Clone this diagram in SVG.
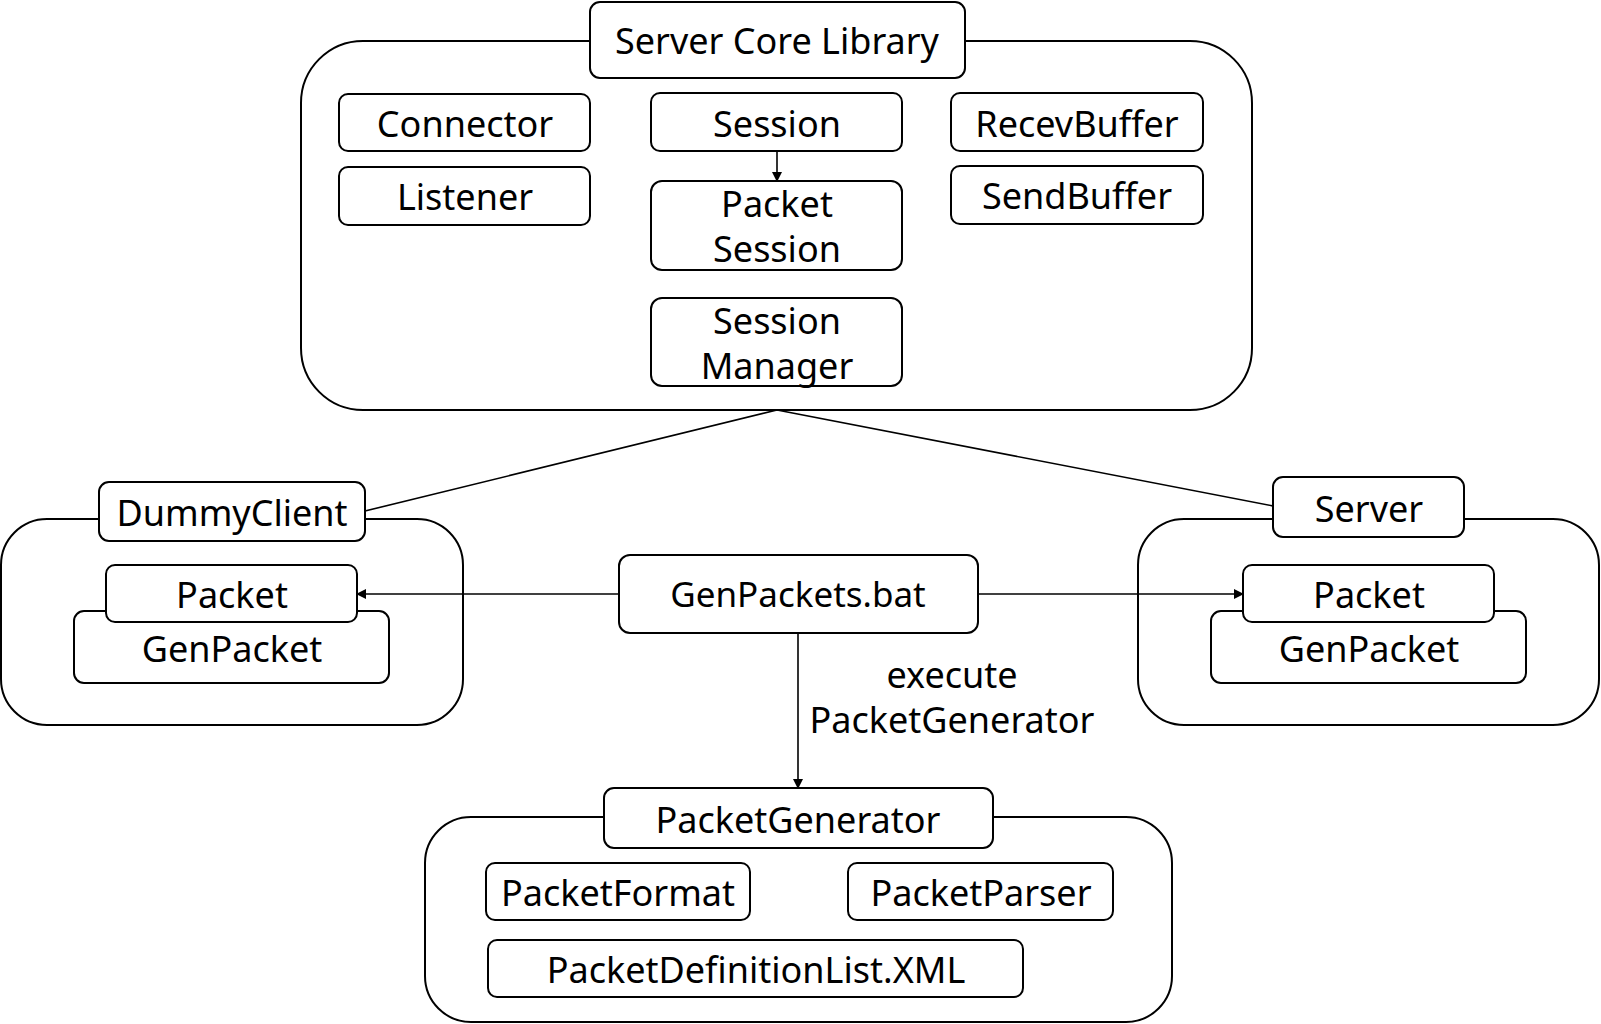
<svg xmlns="http://www.w3.org/2000/svg" width="1601" height="1024" viewBox="0 0 1601 1024">
<defs>
<style>
.box{fill:#fff;stroke:#000;stroke-width:2}
.cont{fill:#fff;stroke:#000;stroke-width:2}
.t{font-family:"Noto Sans","Noto Sans CJK KR",sans-serif;font-size:36px;fill:#000;text-anchor:middle}
.edge{fill:none;stroke:#000;stroke-width:1.6}
</style>
<marker id="arr" markerWidth="10" markerHeight="10" refX="9" refY="5" orient="auto" markerUnits="userSpaceOnUse">
<path d="M0,0 L10,5 L0,10 z" fill="#000"/>
</marker>
</defs>
<rect width="1601" height="1024" fill="#fff"/>

<g id="scl">
<rect class="cont" x="301" y="41" width="951" height="369" rx="62"/>
<rect class="box" x="590" y="2" width="375" height="76" rx="10"/>
<text class="t" x="777" y="54">Server Core Library</text>
</g>
<g id="connector"><rect class="box" x="339" y="94" width="251" height="57" rx="9"/><text class="t" x="465" y="137">Connector</text></g>
<g id="listener"><rect class="box" x="339" y="167" width="251" height="58" rx="9"/><text class="t" x="465" y="210">Listener</text></g>
<g id="session"><rect class="box" x="651" y="93" width="251" height="58" rx="9"/><text class="t" x="777" y="137">Session</text></g>
<g id="packetsession"><rect class="box" x="651" y="181" width="251" height="89" rx="11"/><text class="t" x="777" y="217">Packet</text><text class="t" x="777" y="262">Session</text></g>
<g id="sessionmanager"><rect class="box" x="651" y="298" width="251" height="88" rx="11"/><text class="t" x="777" y="334">Session</text><text class="t" x="777" y="379">Manager</text></g>
<g id="recevbuffer"><rect class="box" x="951" y="93" width="252" height="58" rx="9"/><text class="t" x="1077" y="137">RecevBuffer</text></g>
<g id="sendbuffer"><rect class="box" x="951" y="166" width="252" height="58" rx="9"/><text class="t" x="1077" y="209">SendBuffer</text></g>

<g id="dummyclient">
<rect class="cont" x="1" y="519" width="462" height="206" rx="46"/>
<rect class="box" x="99" y="482" width="266" height="59" rx="10"/>
<text class="t" x="232" y="526">DummyClient</text>
</g>
<g id="dc-genpacket"><rect class="box" x="74" y="611" width="315" height="72" rx="10"/><text class="t" x="232" y="662">GenPacket</text></g>
<g id="dc-packet"><rect class="box" x="106" y="565" width="251" height="57" rx="9"/><text class="t" x="232" y="608">Packet</text></g>

<g id="server">
<rect class="cont" x="1138" y="519" width="461" height="206" rx="46"/>
<rect class="box" x="1273" y="477" width="191" height="60" rx="10"/>
<text class="t" x="1369" y="522">Server</text>
</g>
<g id="sv-genpacket"><rect class="box" x="1211" y="611" width="315" height="72" rx="10"/><text class="t" x="1369" y="662">GenPacket</text></g>
<g id="sv-packet"><rect class="box" x="1243" y="565" width="251" height="57" rx="9"/><text class="t" x="1369" y="608">Packet</text></g>

<g id="genpackets"><rect class="box" x="619" y="555" width="359" height="78" rx="11"/><text class="t" x="798" y="607" style="font-size:35px">GenPackets.bat</text></g>

<g id="packetgenerator">
<rect class="cont" x="425" y="817" width="747" height="205" rx="46"/>
<rect class="box" x="604" y="788" width="389" height="60" rx="10"/>
<text class="t" x="798" y="833">PacketGenerator</text>
</g>
<g id="packetformat"><rect class="box" x="486" y="863" width="264" height="57" rx="9"/><text class="t" x="618" y="906">PacketFormat</text></g>
<g id="packetparser"><rect class="box" x="848" y="863" width="265" height="57" rx="9"/><text class="t" x="981" y="906">PacketParser</text></g>
<g id="packetdef"><rect class="box" x="488" y="940" width="535" height="57" rx="9"/><text class="t" x="756" y="983">PacketDefinitionList.XML</text></g>

<g id="connectors">
<line class="edge" x1="777" y1="410" x2="365" y2="511"/>
<line class="edge" x1="777" y1="410" x2="1273" y2="506"/>
<line class="edge" x1="777" y1="151" x2="777" y2="181" marker-end="url(#arr)"/>
<line class="edge" x1="619" y1="594" x2="357" y2="594" marker-end="url(#arr)"/>
<line class="edge" x1="978" y1="594" x2="1243" y2="594" marker-end="url(#arr)"/>
<line class="edge" x1="798" y1="633" x2="798" y2="788" marker-end="url(#arr)"/>
<text class="t" x="952" y="688">execute</text>
<text class="t" x="952" y="733">PacketGenerator</text>
</g>
</svg>
